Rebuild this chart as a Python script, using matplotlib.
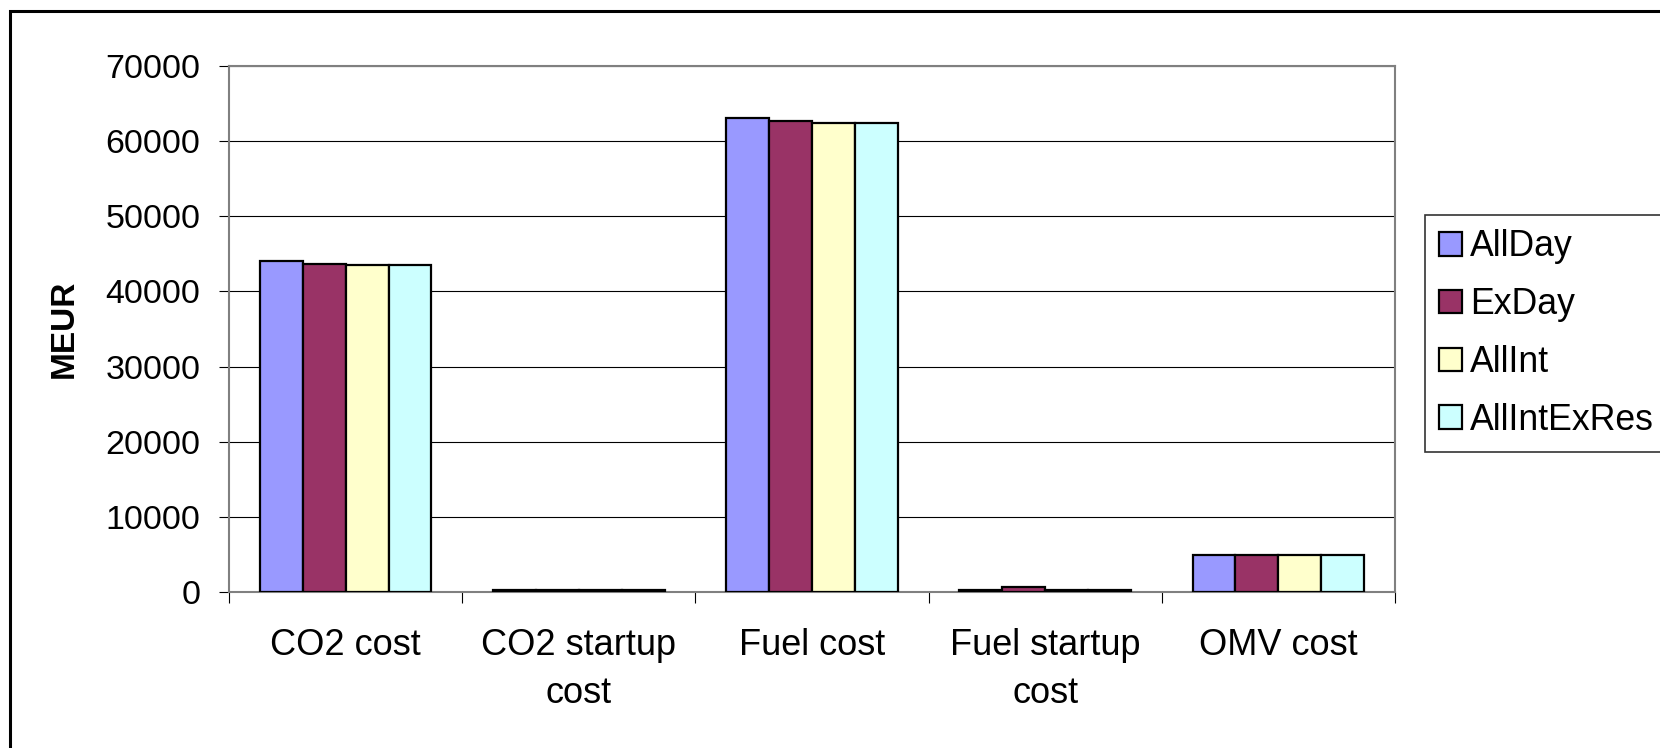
import matplotlib
matplotlib.use("Agg")
import matplotlib.pyplot as plt
import matplotlib.patches as mpatches
import numpy as np

plt.rcParams['font.family'] = ['Liberation Sans', 'DejaVu Sans']

categories = ["CO2 cost", "CO2 startup\ncost", "Fuel cost", "Fuel startup\ncost", "OMV cost"]
series_names = ["AllDay", "ExDay", "AllInt", "AllIntExRes"]
all_day = [44000, 200, 63100, 250, 4900]
ex_day = [43600, 200, 62700, 650, 4900]
all_int = [43550, 200, 62350, 250, 4900]
all_int_ex_res = [43550, 200, 62350, 250, 4900]
series_values = [all_day, ex_day, all_int, all_int_ex_res]
colors = ["#9999FF", "#993366", "#FFFFCC", "#CCFFFF"]
yticks = [0, 10000, 20000, 30000, 40000, 50000, 60000, 70000]

W, H = 1660, 748
fig = plt.figure(figsize=(W / 100, H / 100), dpi=100)
ax = fig.add_axes([229 / W, 1 - 592 / H, (1395 - 229) / W, (592 - 66) / H])

x = np.arange(len(categories))
bw = 0.184
for i, (name, vals, c) in enumerate(zip(series_names, series_values, colors)):
    ax.bar(x + (i - 1.5) * bw, vals, width=bw, color=c, edgecolor="black",
           linewidth=1.6, label=name, zorder=3)

ax.set_xlim(-0.5, len(categories) - 0.5)
ax.set_ylim(0, 70000)
ax.set_yticks(yticks)
ax.set_yticklabels([str(v) for v in yticks])
ax.yaxis.grid(True, color="black", linewidth=0.8, zorder=0)
ax.set_axisbelow(True)

ax.set_xticks(x)
ax.set_xticklabels(categories, linespacing=1.48)
ax.set_xticks(np.arange(-0.5, len(categories)), minor=True)
ax.tick_params(axis="x", which="major", length=0, pad=26, labelsize=26)
ax.tick_params(axis="x", which="minor", length=8, width=0.8, color="black")
ax.tick_params(axis="y", length=7.5, width=0.8, color="black", pad=13, labelsize=24.5)

for s in ax.spines.values():
    s.set_color("#808080")
    s.set_linewidth(1.5)

ax.set_ylabel("MEUR", fontsize=24, fontweight="bold")
ax.yaxis.set_label_coords(-0.128, 0.5)

leg = fig.legend(loc="upper left", bbox_to_anchor=(1425 / W, 1 - 215 / H),
                 borderaxespad=0, fontsize=25.7, frameon=True, fancybox=False,
                 handlelength=0.65, handleheight=0.65, handletextpad=0.22,
                 labelspacing=0.64, borderpad=0.40)
leg.get_frame().set_edgecolor("black")
leg.get_frame().set_linewidth(1.2)

# outer chart-area border
fig.add_artist(mpatches.Rectangle((9.5 / W, -0.1), 1.2, 1.1 - 10.5 / H,
                                  transform=fig.transFigure, fill=False,
                                  edgecolor="black", linewidth=2.2, clip_on=False))

fig.savefig("out.png", dpi=100)
